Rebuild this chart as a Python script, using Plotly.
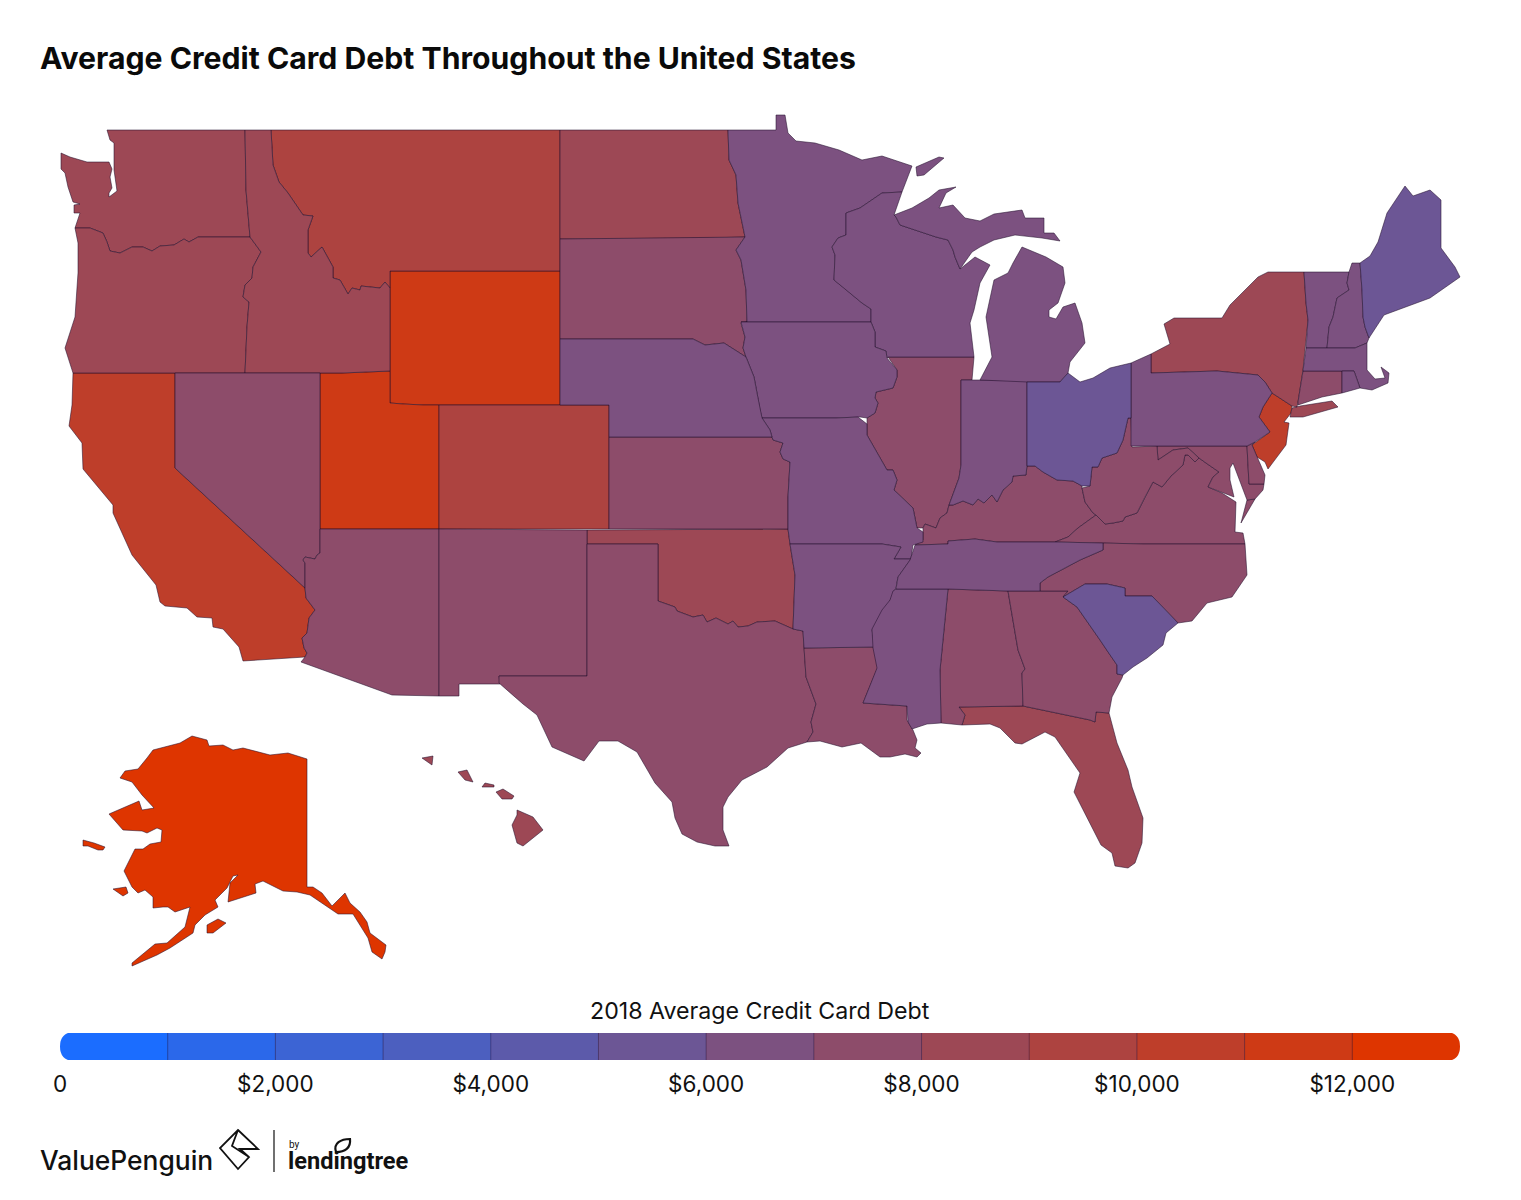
import plotly.graph_objects as go

# legend
BIN_EDGES = [1000, 2000, 3000, 4000, 5000, 6000, 7000, 8000, 9000, 10000, 11000, 12000]
BIN_COLORS = ["rgb(27,109,255)", "rgb(43,104,234)", "rgb(60,100,212)", "rgb(76,95,191)", "rgb(92,90,170)",
              "rgb(108,86,149)", "rgb(124,81,128)", "rgb(141,76,106)", "rgb(157,72,85)", "rgb(173,67,64)",
              "rgb(190,62,42)", "rgb(206,58,21)", "rgb(222,53,0)"]
BIN_MIDS = [500, 1500, 2500, 3500, 4500, 5500, 6500, 7500, 8500, 9500, 10500, 11500, 12500]
TICK_VALS = [0, 2000, 4000, 6000, 8000, 10000, 12000]
TICK_TEXT = ["0", "$2,000", "$4,000", "$6,000", "$8,000", "$10,000", "$12,000"]

# 2018 debt by state, only the legend bin can be read so values sit mid bin
STATES = ["AK", "WY", "UT", "CA", "NJ", "MT", "CO", "WA", "OR", "ID", "ND", "OK", "NY", "FL", "HI",
          "SD", "NV", "AZ", "NM", "TX", "KS", "LA", "AL", "GA", "IL", "KY", "VA", "NC", "MD", "DE", "CT", "WV",
          "MN", "WI", "IA", "MO", "AR", "MS", "TN", "IN", "MI", "NE", "PA", "VT", "NH", "MA", "RI",
          "ME", "OH", "SC"]
DEBT = [12500, 11500, 11500, 10500, 10500, 9500, 9500, 8500, 8500, 8500, 8500, 8500, 8500, 8500, 8500,
        7500, 7500, 7500, 7500, 7500, 7500, 7500, 7500, 7500, 7500, 7500, 7500, 7500, 7500, 7500, 7500, 7500,
        6500, 6500, 6500, 6500, 6500, 6500, 6500, 6500, 6500, 6500, 6500, 6500, 6500, 6500, 6500,
        5500, 5500, 5500]

# basemap geometry (the plotly topojson is not reachable offline), in page pixels
OUTLINES = {
    "WA": [[(107,130),(245,130),(246,190),(250,237),(198,237),(189,242),(184,239),(174,245),(160,246),(152,251),(143,247),(132,247),(120,253),(110,251),(107,242),(103,233),(90,228),(75,228),(77,222),(80,213),(74,213),(74,205),(80,204),(73,202),(68,187),(65,173),(61,169),(61,153),(70,157),(87,162),(98,162),(109,162),(112,169),(110,177),(112,188),(109,193),(109,197),(112,195),(117,191),(114,170),(114,143),(110,140)]],
    "OR": [[(75,228),(90,228),(103,233),(107,242),(110,251),(120,253),(132,247),(143,247),(152,251),(160,246),(174,245),(184,239),(189,242),(198,237),(250,237),(261,252),(253,267),(252,278),(245,285),(243,297),(249,302),(247,327),(245,373),(73,373),(65,348),(75,317),(78,273),(78,243)]],
    "ID": [[(245,130),(271,130),(273,165),(279,182),(288,193),(303,215),(313,216),(308,230),(308,253),(311,257),(322,247),(333,267),(333,278),(340,280),(348,294),(352,288),(360,290),(361,286),(380,288),(385,282),(390,288),(390,371),(342,373),(245,373),(247,327),(249,302),(243,297),(245,285),(252,278),(253,267),(261,252),(250,237),(246,190)]],
    "MT": [[(271,130),(560,130),(560,271),(390,271),(390,288),(385,282),(380,288),(361,286),(360,290),(352,288),(348,294),(340,280),(333,278),(333,267),(322,247),(311,257),(308,253),(308,230),(313,216),(303,215),(288,193),(279,182),(273,165)]],
    "WY": [[(390,271),(560,271),(560,405),(439,405),(423,405),(403,404),(390,403)]],
    "UT": [[(320,373),(342,373),(390,371),(390,403),(403,404),(423,405),(439,405),(439,529),(320,529)]],
    "NV": [[(175,373),(320,373),(320,553),(317,555),(315,559),(305,557),(303,560),(305,563),(305,588),(175,468)]],
    "CA": [[(73,373),(175,373),(175,468),(305,588),(306,598),(315,610),(309,618),(307,633),(302,638),(304,648),(307,653),(305,657),(243,661),(239,647),(223,629),(213,627),(212,618),(197,617),(187,608),(165,606),(160,602),(156,585),(132,555),(113,513),(113,505),(83,469),(82,443),(69,426),(72,405)]],
    "AZ": [[(320,529),(439,529),(439,696),(392,695),(301,662),(305,657),(307,653),(304,648),(302,638),(307,633),(309,618),(315,610),(306,598),(305,588),(305,563),(303,560),(305,557),(315,559),(317,555),(320,553)]],
    "NM": [[(439,529),(587,530),(587,676),(499,676),(500,684),(459,684),(459,696),(439,696)]],
    "CO": [[(439,405),(609,405),(609,529),(439,529)]],
    "KS": [[(609,437),(772,437),(773,440),(783,443),(780,452),(783,459),(790,462),(788,497),(788,529),(609,529)]],
    "OK": [[(587,530),(788,529),(790,544),(795,575),(793,629),(775,621),(757,622),(748,626),(738,627),(733,621),(728,624),(716,618),(707,622),(703,615),(693,617),(677,611),(675,607),(658,601),(658,544),(587,544)]],
    "TX": [[(587,544),(658,544),(658,601),(675,607),(677,611),(693,617),(703,615),(707,622),(716,618),(728,624),(733,621),(738,627),(748,626),(757,622),(775,621),(793,629),(803,631),(804,648),(806,677),(816,704),(811,722),(813,732),(807,742),(788,748),(767,767),(742,780),(728,797),(723,807),(723,830),(729,846),(715,846),(697,842),(682,834),(675,818),(672,802),(655,783),(637,752),(618,741),(599,741),(584,761),(552,747),(537,715),(523,704),(499,683),(499,676),(587,676)]],
    "ND": [[(560,130),(728,130),(729,160),(736,175),(738,203),(745,237),(708,238),(560,239)]],
    "SD": [[(560,239),(708,238),(745,237),(736,250),(741,260),(746,290),(747,322),(741,323),(745,337),(743,348),(746,357),(724,343),(705,345),(693,339),(560,339)]],
    "NE": [[(560,339),(693,339),(705,345),(724,343),(746,357),(754,377),(757,393),(760,410),(762,418),(770,430),(772,437),(609,437),(609,405),(560,405)]],
    "MN": [[(728,130),(776,130),(776,115),(785,115),(788,133),(796,141),(815,143),(839,150),(862,160),(882,156),(912,166),(902,192),(882,193),(860,208),(846,213),(846,235),(838,238),(832,247),(835,255),(834,280),(843,287),(862,303),(871,309),(871,322),(741,322),(747,322),(746,290),(741,260),(736,250),(745,237),(738,203),(736,175),(729,160)],
           [(916,167),(939,157),(944,158),(934,167),(924,175),(917,176)]],
    "IA": [[(741,322),(871,322),(875,332),(875,347),(886,351),(887,358),(897,370),(897,377),(893,388),(876,392),(875,398),(878,403),(875,413),(867,418),(860,417),(836,418),(762,418),(760,410),(757,393),(754,377),(746,357),(743,348),(745,337),(741,323)]],
    "WI": [[(902,192),(894,215),(896,217),(900,225),(936,237),(948,240),(953,250),(955,257),(960,269),(975,257),(990,265),(980,283),(974,310),(970,323),(974,357),(888,357),(887,358),(886,351),(875,347),(875,332),(871,322),(871,309),(862,303),(843,287),(834,280),(835,255),(832,247),(838,238),(846,235),(846,213),(860,208),(882,193)]],
    "MI": [[(894,215),(912,208),(929,198),(939,190),(956,187),(946,193),(939,208),(953,205),(965,218),(980,221),(994,214),(1022,210),(1025,218),(1044,218),(1044,233),(1054,233),(1060,241),(1042,238),(1015,235),(994,240),(980,247),(972,252),(960,269),(955,257),(953,250),(948,240),(936,237),(900,225),(896,217)],
           [(1022,247),(1046,257),(1063,267),(1065,283),(1058,303),(1049,310),(1049,317),(1056,319),(1063,307),(1075,303),(1082,323),(1085,343),(1070,362),(1068,373),(1060,382),(1028,382),(980,380),(992,357),(986,317),(994,280),(1008,273),(1013,263)]],
    "IL": [[(888,357),(974,357),(972,380),(961,380),(961,465),(959,478),(952,497),(949,505),(947,513),(940,518),(936,528),(925,524),(923,528),(917,528),(913,508),(894,490),(897,480),(893,470),(887,470),(867,435),(867,424),(867,418),(875,413),(878,403),(875,398),(876,392),(893,388),(897,377),(897,370)]],
    "IN": [[(961,380),(1027,380),(1027,465),(1026,475),(1013,476),(1012,482),(1003,490),(997,502),(992,495),(984,503),(978,499),(973,505),(963,501),(953,505),(949,505),(952,497),(959,478),(961,465)]],
    "OH": [[(1027,382),(1060,382),(1068,373),(1080,382),(1093,378),(1110,368),(1131,363),(1131,418),(1128,418),(1123,440),(1117,453),(1102,458),(1098,467),(1092,467),(1090,486),(1082,486),(1073,481),(1057,480),(1043,472),(1035,466),(1027,466)]],
    "PA": [[(1131,363),(1151,354),(1151,373),(1217,371),(1258,375),(1265,382),(1272,393),(1263,407),(1259,417),(1270,432),(1255,442),(1247,446),(1131,446)]],
    "NY": [[(1151,354),(1170,344),(1164,324),(1174,318),(1222,318),(1230,305),(1258,277),(1268,272),(1304,272),(1306,303),(1308,320),(1303,370),(1298,402),(1297,407),(1292,406),(1272,393),(1265,382),(1258,375),(1217,371),(1151,373)],
           [(1290,417),(1303,417),(1338,407),(1332,401),(1300,406),(1292,408)]],
    "NJ": [[(1272,393),(1292,406),(1291,413),(1284,422),(1289,423),(1286,445),(1268,469),(1265,462),(1257,457),(1252,445),(1270,432),(1259,417),(1263,407)]],
    "VT": [[(1304,272),(1349,272),(1347,283),(1349,290),(1337,298),(1333,317),(1329,327),(1327,348),(1306,348),(1308,320),(1306,303)]],
    "NH": [[(1352,263),(1360,263),(1362,290),(1363,317),(1365,327),(1369,338),(1367,343),(1355,348),(1327,348),(1329,327),(1333,317),(1337,298),(1349,290),(1347,283),(1349,272)]],
    "ME": [[(1360,263),(1370,256),(1378,242),(1387,213),(1405,186),(1413,196),(1430,190),(1441,200),(1441,248),(1455,267),(1460,277),(1430,298),(1384,315),(1369,338),(1365,327),(1363,317),(1362,290)]],
    "MA": [[(1306,348),(1355,348),(1367,343),(1367,370),(1375,379),(1385,378),(1381,367),(1389,373),(1388,383),(1372,390),(1360,388),(1354,371),(1303,371)]],
    "CT": [[(1303,371),(1342,371),(1342,393),(1322,397),(1298,405),(1298,402)]],
    "RI": [[(1342,371),(1354,371),(1360,388),(1342,393)]],
    "MD": [[(1157,446),(1247,446),(1249,484),(1264,484),(1263,490),(1255,499),(1247,500),(1242,487),(1233,463),(1230,468),(1230,480),(1234,497),(1220,492),(1208,487),(1213,477),(1219,472),(1206,463),(1199,458),(1188,448),(1173,450),(1158,460)]],
    "DE": [[(1247,446),(1255,442),(1252,445),(1257,457),(1265,475),(1264,484),(1249,484)]],
    "VA": [[(1055,542),(1143,544),(1245,544),(1243,533),(1235,532),(1236,502),(1222,493),(1208,487),(1213,477),(1219,472),(1206,463),(1199,458),(1195,462),(1188,455),(1185,455),(1183,465),(1171,476),(1162,487),(1153,482),(1145,497),(1137,513),(1125,517),(1123,521),(1113,523),(1105,524),(1096,515),(1078,528),(1068,537)],
           [(1247,500),(1255,499),(1241,523)]],
    "WV": [[(1131,418),(1132,447),(1157,446),(1158,460),(1173,450),(1188,448),(1199,458),(1195,462),(1188,455),(1185,455),(1183,465),(1171,476),(1162,487),(1153,482),(1145,497),(1137,513),(1125,517),(1123,521),(1113,523),(1105,524),(1096,515),(1093,513),(1085,502),(1082,488),(1090,486),(1092,467),(1098,467),(1102,458),(1117,453),(1123,440),(1128,418)]],
    "KY": [[(1027,466),(1035,466),(1043,472),(1057,480),(1073,481),(1082,486),(1082,488),(1085,502),(1093,513),(1096,515),(1078,528),(1068,537),(1055,542),(997,542),(975,539),(948,541),(948,544),(915,545),(923,540),(923,528),(925,524),(936,528),(940,518),(947,513),(949,505),(953,505),(963,501),(973,505),(978,499),(984,503),(992,495),(997,502),(1003,490),(1012,482),(1013,476),(1026,475)]],
    "TN": [[(915,545),(948,544),(948,541),(975,539),(997,542),(1055,542),(1103,543),(1103,550),(1080,560),(1067,567),(1048,577),(1040,583),(1040,591),(1008,591),(948,589),(896,589),(898,577),(910,560),(913,550)]],
    "NC": [[(1103,543),(1143,544),(1245,544),(1247,575),(1232,597),(1207,603),(1192,621),(1178,623),(1152,596),(1125,596),(1125,588),(1107,584),(1085,584),(1063,597),(1068,591),(1040,591),(1040,583),(1048,577),(1067,567),(1080,560),(1103,550)]],
    "SC": [[(1063,597),(1085,584),(1107,584),(1125,588),(1125,596),(1152,596),(1178,623),(1166,633),(1163,645),(1147,658),(1133,667),(1123,675),(1117,674),(1117,665),(1108,652),(1100,640),(1077,607)]],
    "GA": [[(1008,591),(1040,591),(1068,591),(1063,597),(1077,607),(1100,640),(1108,652),(1117,665),(1117,674),(1123,675),(1122,678),(1112,697),(1109,713),(1096,712),(1095,722),(1090,720),(1023,706),(1022,673),(1025,669),(1018,650)]],
    "AL": [[(948,589),(1008,591),(1018,650),(1025,669),(1022,673),(1023,706),(959,707),(965,715),(962,725),(941,723),(940,670)]],
    "FL": [[(959,707),(1023,706),(1090,720),(1095,722),(1096,712),(1109,713),(1117,743),(1128,770),(1132,787),(1143,818),(1142,843),(1135,863),(1128,868),(1115,866),(1112,853),(1101,845),(1074,792),(1080,773),(1055,737),(1045,732),(1022,744),(1015,743),(1000,728),(990,724),(962,725),(965,715)]],
    "MS": [[(896,589),(948,589),(940,670),(941,723),(927,724),(912,729),(908,722),(907,706),(863,703),(877,668),(873,648),(872,629),(882,610),(890,600),(893,591)]],
    "LA": [[(804,648),(875,647),(878,667),(863,703),(907,706),(907,720),(913,730),(917,740),(915,748),(921,753),(917,757),(905,754),(890,757),(880,757),(861,743),(842,747),(820,741),(807,742),(813,732),(811,722),(816,704),(806,677)]],
    "AR": [[(790,544),(882,544),(901,547),(894,559),(911,559),(898,577),(896,588),(887,607),(872,630),(875,647),(804,648),(803,631),(793,629),(795,575)]],
    "MO": [[(762,418),(836,418),(858,417),(867,424),(867,435),(887,470),(893,470),(897,480),(894,490),(913,508),(917,528),(923,532),(923,542),(913,545),(911,559),(894,559),(901,547),(882,544),(790,544),(788,529),(788,497),(790,462),(783,459),(780,452),(783,443),(773,440),(772,437),(770,430)]],
    "AK": [[(192,736),(207,740),(209,746),(223,745),(233,750),(243,748),(270,755),(288,753),(307,759),(307,887),(313,887),(322,893),(332,906),(345,893),(350,903),(360,912),(367,922),(370,933),(386,945),(385,952),(382,959),(372,952),(368,938),(358,922),(353,914),(338,914),(325,905),(310,895),(297,892),(283,891),(263,881),(255,884),(256,893),(228,902),(230,883),(238,875),(233,876),(227,888),(215,900),(218,907),(205,915),(195,925),(193,933),(170,948),(157,955),(132,966),(132,963),(155,944),(167,943),(185,927),(190,907),(180,910),(175,912),(168,907),(163,907),(153,908),(153,897),(145,890),(138,893),(132,887),(124,871),(135,849),(143,849),(150,844),(161,842),(162,830),(157,828),(147,833),(142,831),(123,830),(109,814),(139,801),(142,810),(154,808),(142,795),(132,782),(120,778),(125,771),(138,769),(147,758),(153,750),(180,743)],
           [(83,840),(94,843),(105,847),(103,850),(98,850),(88,846),(83,846)],
           [(113,889),(126,887),(128,893),(123,896)],
           [(207,925),(218,919),(226,923),(213,933),(207,933)]],
    "HI": [[(422,758),(433,756),(432,765)],
           [(458,772),(467,770),(473,782),(465,780)],
           [(482,787),(485,783),(494,785),(494,787)],
           [(496,792),(503,789),(514,796),(512,799),(502,799)],
           [(517,810),(533,817),(543,830),(523,846),(517,843),(512,825),(517,815)]],
}

BORDER = "rgba(35,15,45,0.9)"
PAGE_MARGIN = 8  # the browser puts 8px of body margin round the plot
FIG_W = 1521 - PAGE_MARGIN
FIG_H = 1200 - PAGE_MARGIN

fig = go.Figure()

# states, the fill is the legend bin the value falls in
for state, value in zip(STATES, DEBT):
    xs, ys = [], []
    for ring in OUTLINES[state]:
        xs += [p[0] for p in ring] + [ring[0][0], None]
        ys += [p[1] for p in ring] + [ring[0][1], None]
    color = BIN_COLORS[BIN_MIDS.index(value)]
    fig.add_trace(go.Scatter(x=xs, y=ys, mode="lines", fill="toself", fillcolor=color,
                             line=dict(color=BORDER, width=0.6), name=state,
                             hoverinfo="name", showlegend=False))

# colour key, one cell per bin
fig.add_trace(go.Heatmap(x=BIN_MIDS, y=[0], z=[BIN_MIDS], xaxis="x2", yaxis="y2", zmin=0, zmax=13000,
                         colorscale=[[i / 13, c] for i, c in enumerate(BIN_COLORS) for i in (i, i + 1)],
                         showscale=False, hoverinfo="skip"))

shapes = []
for edge in BIN_EDGES:
    shapes.append(dict(type="line", xref="x2", yref="y2", x0=edge, x1=edge, y0=-0.5, y1=0.5,
                       line=dict(color="rgba(40,20,60,0.45)", width=1)))

# white corners turn the key into a pill
for corner in ["M59,1032 L73,1032 Q60,1033 60,1046.5 L59,1046.5 Z",
               "M59,1061 L73,1061 Q60,1060 60,1046.5 L59,1046.5 Z",
               "M1461,1032 L1447,1032 Q1460,1033 1460,1046.5 L1461,1046.5 Z",
               "M1461,1061 L1447,1061 Q1460,1060 1460,1046.5 L1461,1046.5 Z"]:
    shapes.append(dict(type="path", xref="x", yref="y", path=corner, fillcolor="white", line=dict(width=0)))

# logos
logo_line = dict(color="#111111", width=1.8)
shapes.append(dict(type="path", xref="x", yref="y", line=logo_line,
                   path="M238,1130 L258,1149 L240,1149 L249,1157 L238,1169 L220,1148 Z M238,1130 L232,1146 L249,1157"))
shapes.append(dict(type="line", xref="x", yref="y", x0=274, x1=274, y0=1130, y1=1172,
                   line=dict(color="#111111", width=1.2)))
shapes.append(dict(type="path", xref="x", yref="y", line=dict(color="#111111", width=2.2),
                   path="M336,1152 C333,1143 341,1139 350,1139 C351,1148 345,1152 336,1152 Z"))

annotations = [
    dict(text="<b>Average Credit Card Debt Throughout the United States</b>", x=38, y=58, xanchor="left",
         font=dict(family="Inter", size=30.2, color="#0a0a0a")),
    dict(text="2018 Average Credit Card Debt", x=760, y=1011, xanchor="center",
         font=dict(family="Inter", size=23.2, color="#111111")),
    dict(text="ValuePenguin", x=38, y=1160, xanchor="left",
         font=dict(family="Inter", size=26.4, weight=500, color="#111111")),
    dict(text="by", x=287, y=1144, xanchor="left",
         font=dict(family="Roboto", size=10, color="#111111")),
    dict(text="<b>lendingtree</b>", x=286, y=1161, xanchor="left",
         font=dict(family="Roboto", size=23.6, color="#111111")),
]
for a in annotations:
    a.update(xref="x", yref="y", yanchor="middle", showarrow=False)

fig.update_layout(
    width=FIG_W, height=FIG_H,
    margin=dict(l=0, r=0, t=0, b=0),
    paper_bgcolor="white", plot_bgcolor="white",
    showlegend=False,
    shapes=shapes, annotations=annotations,
    xaxis=dict(range=[PAGE_MARGIN, 1521], domain=[0, 1], visible=False, fixedrange=True, automargin=False),
    yaxis=dict(range=[1200, PAGE_MARGIN], domain=[0, 1], visible=False, fixedrange=True, automargin=False),
    xaxis2=dict(range=[0, 13000], domain=[(60 - PAGE_MARGIN) / FIG_W, (1460 - PAGE_MARGIN) / FIG_W], anchor="y2",
                tickmode="array", tickvals=TICK_VALS, ticktext=TICK_TEXT, ticks="outside", ticklen=4,
                tickcolor="rgba(0,0,0,0)", showgrid=False, zeroline=False, showline=False, automargin=False,
                tickfont=dict(family="Inter", size=22.5, color="#111111"), fixedrange=True),
    yaxis2=dict(range=[-0.5, 0.5], domain=[(1200 - 1060) / FIG_H, (1200 - 1033) / FIG_H], anchor="x2",
                visible=False, fixedrange=True, automargin=False),
)

fig.write_html("out.html")
